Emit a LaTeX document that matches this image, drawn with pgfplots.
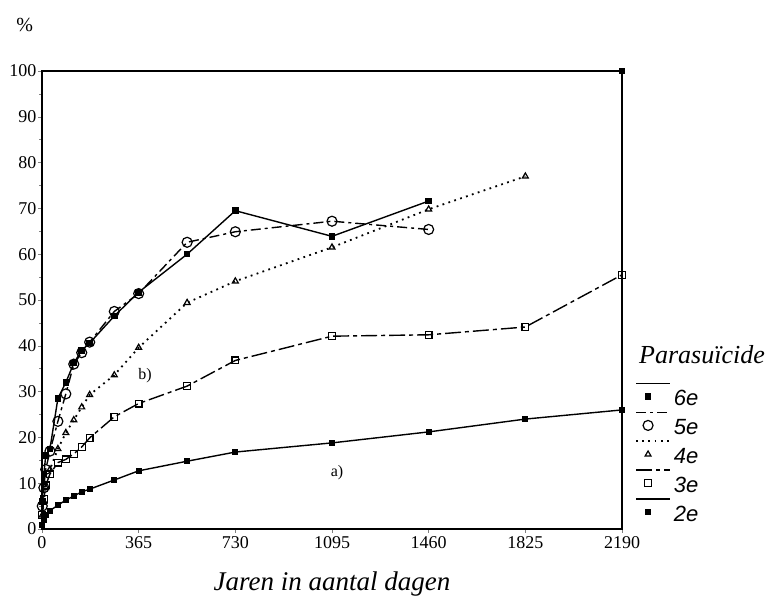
\documentclass[border=0pt]{standalone}
\usepackage{pgfplots}
\usepackage{pgfplotstable}
\pgfplotsset{compat=1.18}
\usepackage{fontspec}
\setmainfont{Liberation Serif}
\newfontfamily\legfont{Liberation Sans}
\pgfplotstableread{
d v
1 6
7 12
14 16
30 17.5
60 28.5
90 32
120 36.2
150 39
180 40.6
273 46.5
365 51.7
548 60
730 69.5
1095 63.9
1460 71.6
}\tabF
\pgfplotstableread{
d v
1 5
7 9
14 13
30 17
60 23.5
90 29.5
120 36
150 38.5
180 40.8
273 47.5
365 51.4
548 62.6
730 64.9
1095 67.2
1460 65.4
}\tabE
\pgfplotstableread{
d v
1 3
7 6
14 9
30 13
60 17.5
90 21
120 23.8
150 26.6
180 29.3
273 33.6
365 39.6
548 49.4
730 54.1
1095 61.5
1460 69.8
1825 77
}\tabD
\pgfplotstableread{
d v
1 3
7 6.5
14 9.5
30 12
60 14.5
90 15.2
120 16.4
150 17.9
180 19.9
273 24.5
365 27.4
548 31.2
730 36.8
1095 42.1
1460 42.4
1825 44.1
2190 55.5
}\tabC
\pgfplotstableread{
d v
1 0.8
7 2
14 3
30 4
60 5.2
90 6.3
120 7.2
150 8.1
180 8.7
273 10.7
365 12.7
548 14.8
730 16.8
1095 18.8
1460 21.2
1825 24.0
2190 26.0
}\tabB
\begin{document}
\begin{tikzpicture}
\path[use as bounding box] (-21pt,-35pt) rectangle (365pt,264.5pt);
\begin{axis}[
  at={(0,0)}, anchor=south west,
  scale only axis, width=290pt, height=229pt,
  xmin=0, xmax=2190, ymin=0, ymax=100,
  xtick={0,365,730,1095,1460,1825,2190},
  ytick={0,10,...,100},
  minor y tick num=1,
  tick align=outside, tick pos=left,
  major tick length=2pt, minor tick length=1.5pt,
  /pgf/number format/assume math mode=true,
  /pgf/number format/1000 sep={},
  tick label style={font=\fontsize{9}{10}\selectfont},
  yticklabel style={inner sep=0.6pt},
  xticklabel style={inner sep=1.8pt},
  axis line style={line width=0.6pt},
  clip=false,
  xlabel={\itshape Jaren in aantal dagen},
  xlabel style={font=\fontsize{13.5}{15}\selectfont, at={(axis description cs:0.5,-0.121)}, anchor=center},
  legend cell align=left,
  legend style={at={(rel axis cs:1.022,0.32)}, anchor=north west, draw=none, fill=none,
    font=\legfont\itshape\fontsize{11}{12}\selectfont, row sep=0pt, inner sep=0pt,
    nodes={inner sep=1.5pt}},
  legend image code/.code={
    \draw[#1,mark=none] (0pt,8pt) -- (17pt,8pt);
    \draw[#1,solid] plot coordinates {(6pt,1.5pt)};
  },
]
\addplot[black, line width=0.7pt, mark=square*, mark size=1.3pt] table[x=d,y=v] {\tabF};
\addlegendentry{6e}
\addplot[black, line width=0.7pt, dash pattern=on 5pt off 2pt on 1.5pt off 2pt, mark=o, mark size=2.5pt, mark options={solid, line width=0.6pt, fill=white}] table[x=d,y=v] {\tabE};
\addlegendentry{5e}
\addplot[black, line width=0.9pt, dash pattern=on 0.9pt off 2.2pt, mark=triangle, mark size=1.7pt, mark options={solid, line width=0.6pt}] table[x=d,y=v] {\tabD};
\addlegendentry{4e}
\addplot[black, line width=0.7pt, dash pattern=on 8pt off 2pt on 2pt off 2pt, mark=square, mark size=1.7pt, mark options={solid, line width=0.6pt, fill=white}] table[x=d,y=v] {\tabC};
\addlegendentry{3e}
\addplot[black, line width=0.7pt, mark=square*, mark size=1.2pt] table[x=d,y=v] {\tabB};
\addlegendentry{2e}
\addplot[black, only marks, mark=square*, mark size=1.4pt, forget plot] coordinates {(2190,100)};
\node[font=\fontsize{13}{15}\selectfont\itshape] at (rel axis cs:1.138,0.38) {Parasuïcide};
\node[font=\fontsize{10}{12}\selectfont] at (rel axis cs:-0.03,1.10) {\%};
\node[font=\fontsize{8}{9}\selectfont] at (axis cs:1114,12.4) {a)};
\node[font=\fontsize{8}{9}\selectfont] at (axis cs:389,33.4) {b)};
\end{axis}
\end{tikzpicture}
\end{document}
